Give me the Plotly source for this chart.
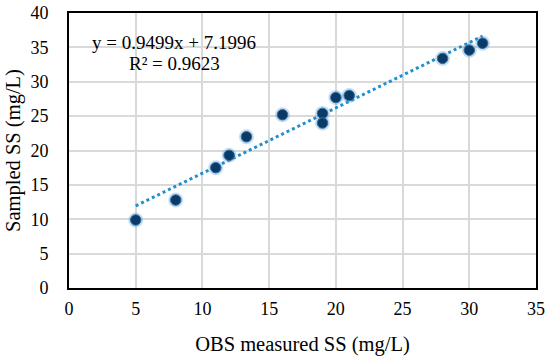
import plotly.graph_objects as go

obs_ss = [5, 8, 11, 12, 13.3, 16, 19, 19, 20, 21, 28, 30, 31]
sampled_ss = [9.9, 12.8, 17.5, 19.3, 22.0, 25.2, 25.4, 24.0, 27.7, 28.0, 33.4, 34.6, 35.6]
slope, intercept = 0.9499, 7.1996
trend_x = [min(obs_ss), max(obs_ss)]
x_ticks = [0, 5, 10, 15, 20, 25, 30, 35]
y_ticks = [0, 5, 10, 15, 20, 25, 30, 35, 40]

fig = go.Figure()
fig.add_trace(go.Scatter(
    x=trend_x, y=[slope * v + intercept for v in trend_x], mode="lines",
    line=dict(color="#1f8fcf", width=3, dash="dot"), hoverinfo="skip", showlegend=False))
fig.add_trace(go.Scatter(
    x=obs_ss, y=sampled_ss, mode="markers",
    marker=dict(size=15, color="rgba(91,155,213,0.35)", line=dict(width=0)),
    hoverinfo="skip", showlegend=False))
fig.add_trace(go.Scatter(
    x=obs_ss, y=sampled_ss, mode="markers",
    marker=dict(size=10.5, color="#0b3a66", line=dict(width=1, color="#2f6fa8")),
    showlegend=False))

fig.add_annotation(x=0.225, y=0.8945, xref="paper", yref="paper",
                   xanchor="center", yanchor="middle",
                   text=f"y = {slope}x + {intercept}", showarrow=False,
                   font=dict(size=19, color="black"))
fig.add_annotation(x=0.226, y=0.818, xref="paper", yref="paper",
                   xanchor="center", yanchor="middle",
                   text="R² = 0.9623", showarrow=False,
                   font=dict(size=19, color="black"))

axis_common = dict(showgrid=True, gridcolor="#d9d9d9", gridwidth=1.5,
                   showline=True, linecolor="black", linewidth=2, mirror=True,
                   zeroline=False, ticks="", ticklabeloverflow="allow",
                   tickfont=dict(size=18, color="black"))
fig.update_xaxes(range=[0, 35], tickvals=x_ticks, ticklabelstandoff=3,
                 title=dict(text="OBS measured SS (mg/L)", font=dict(size=20.5, color="black"), standoff=19),
                 **axis_common)
fig.update_yaxes(range=[0, 40], tickvals=y_ticks, ticklabelstandoff=15,
                 title=dict(text="Sampled SS (mg/L)", font=dict(size=20.5, color="black"), standoff=4),
                 **axis_common)
fig.update_layout(width=550, height=360, margin=dict(l=69, r=14, t=13, b=72, autoexpand=False),
                  paper_bgcolor="white", plot_bgcolor="white",
                  font=dict(family="Liberation Serif, Times New Roman, serif", color="black"))
fig.write_html("out.html", config={"displayModeBar": False},
               post_script="document.body.style.margin='0';document.body.style.overflow='hidden';")
